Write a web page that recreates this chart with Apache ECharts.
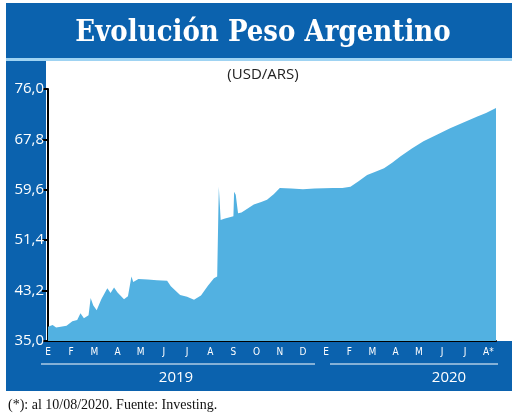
<!DOCTYPE html>
<html><head><meta charset="utf-8">
<script src="https://cdn.jsdelivr.net/npm/echarts@6/dist/echarts.min.js"></script>
<style>html,body{margin:0;padding:0;background:#fff}#c{width:520px;height:417px}</style>
</head><body><div id="c"></div>
<script>
// time in months since 1 Jan 2019
const times = [0,0.2,0.35,0.55,0.8,1.05,1.26,1.4,1.55,1.75,1.84,1.95,2.1,2.3,2.56,2.7,2.85,3.0,3.28,3.45,3.6,3.68,3.9,4.3,4.7,5.14,5.3,5.7,6.0,6.3,6.6,6.9,7.16,7.3,7.34,7.37,7.45,7.6,8.0,8.03,8.1,8.2,8.35,8.6,8.88,9.2,9.45,9.75,10.0,10.5,11.0,11.5,12.3,12.7,13.05,13.4,13.77,14.1,14.5,14.85,15.2,15.7,16.2,16.8,17.35,17.9,18.5,18.9,19.33];
const values = [37.3,37.6,37.2,37.3,37.5,38.2,38.4,39.5,38.7,39.2,42.0,40.8,40.0,41.8,43.6,42.8,43.7,42.9,41.8,42.3,45.5,44.6,45.1,45.0,44.9,44.8,43.9,42.5,42.2,41.7,42.4,44.0,45.2,45.5,45.8,60.1,54.7,54.9,55.3,59.3,58.8,55.8,55.9,56.5,57.2,57.6,58.0,58.9,59.9,59.8,59.7,59.8,59.9,59.9,60.1,61.0,62.0,62.5,63.1,64.0,65.0,66.3,67.5,68.6,69.6,70.5,71.5,72.1,72.89];
const monthLabels = ['E','F','M','A','M','J','J','A','S','O','N','D','E','F','M','A','M','J','J','A*'];
const yTicks = ['35,0','43,2','51,4','59,6','67,8','76,0'];
const years = ['2019','2020'];
const lastLabel = '72,89';

const data = times.map((t,i)=> i===times.length-1
  ? {value:[t,values[i]], label:{show:true,position:'top',offset:[-14,-2],formatter:lastLabel,color:'#222',fontSize:15,fontFamily:'Open Sans'}}
  : [t,values[i]]);

const DB='#0b62ae';
const chart = echarts.init(document.getElementById('c'));
chart.setOption({
  animation:false,
  grid:{left:48,right:24,top:89,bottom:76},
  graphic:[
    {type:'rect',z:-10,shape:{x:6,y:3,width:506,height:388},style:{fill:DB}},
    {type:'rect',z:-9,shape:{x:6,y:58,width:506,height:3},style:{fill:'#9fd3f2'}},
    {type:'rect',z:-9,shape:{x:46,y:61,width:466,height:280},style:{fill:'#fff'}},
    {type:'text',z:5,style:{x:263,y:33,text:'Evolución Peso Argentino',fill:'#fff',font:'bold 29px "DejaVu Serif Condensed", serif',textAlign:'center',textVerticalAlign:'middle'}},
    {type:'text',z:5,style:{x:263,y:75,text:'(USD/ARS)',fill:'#222',font:'15px "Open Sans"',textAlign:'center',textVerticalAlign:'middle'}},
    {type:'line',z:5,shape:{x1:41,y1:364,x2:315,y2:364},style:{stroke:'#fff',lineWidth:1}},
    {type:'line',z:5,shape:{x1:330,y1:364,x2:498,y2:364},style:{stroke:'#fff',lineWidth:1}},
    {type:'text',z:5,style:{x:176,y:378,text:years[0],fill:'#fff',font:'15px "Open Sans"',textAlign:'center',textVerticalAlign:'middle'}},
    {type:'text',z:5,style:{x:449,y:378,text:years[1],fill:'#fff',font:'15px "Open Sans"',textAlign:'center',textVerticalAlign:'middle'}},
    {type:'text',z:5,style:{x:8,y:405,text:'(*): al 10/08/2020. Fuente: Investing.',fill:'#111',font:'14px "Liberation Serif", serif',textVerticalAlign:'middle'}}
  ],
  xAxis:{type:'value',min:0,max:19.33,interval:1,
    axisLine:{show:true,lineStyle:{color:'#000',width:2}},axisTick:{show:false},splitLine:{show:false},
    axisLabel:{color:'#fff',fontSize:10,fontFamily:'DejaVu Sans Condensed',margin:6,showMaxLabel:false,
      formatter:v=>monthLabels[Math.round(v)]||''}},
  yAxis:{type:'value',min:35,max:76,interval:8.2,
    axisLine:{show:true,lineStyle:{color:'#000',width:2}},
    axisTick:{show:true,length:6,lineStyle:{color:'#000',width:2}},splitLine:{show:false},
    axisLabel:{color:'#fff',fontSize:15,fontFamily:'Open Sans',margin:4,
      formatter:v=>yTicks[Math.round((v-35)/8.2)]}},
  series:[{type:'line',data:data,symbol:'none',lineStyle:{width:0},
    areaStyle:{color:'#52b1e1',opacity:1}}]
});
</script></body></html>
